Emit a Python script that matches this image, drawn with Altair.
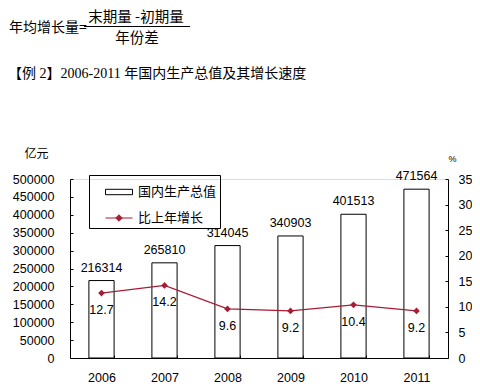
import altair as alt
import pandas as pd

years = ["2006", "2007", "2008", "2009", "2010", "2011"]
gdp = [216314, 265810, 314045, 340903, 401513, 471564]
growth = [12.7, 14.2, 9.6, 9.2, 10.4, 9.2]
gdp_ticks = [0, 50000, 100000, 150000, 200000, 250000, 300000, 350000, 400000, 450000, 500000]
pct_ticks = [0, 5, 10, 15, 20, 25, 30, 35]
series = ["国内生产总值", "比上年增长"]

RED = "#a81c34"
CJK = "Noto Sans CJK SC"
LAT = "Liberation Sans"

df = pd.DataFrame({"year": years, "gdp": gdp, "growth": growth,
                   "s_bar": series[0], "s_line": series[1]})

W, H = 378, 179

xscale = alt.Scale(paddingInner=0.6, paddingOuter=0.3)
yl_scale = alt.Scale(domain=[0, 500000], nice=False)
yr_scale = alt.Scale(domain=[0, 35], nice=False)

legend = alt.Legend(
    title=None, orient="none", legendX=19, legendY=-4, direction="vertical",
    strokeColor="black", padding=3, rowPadding=5, symbolOffset=13, labelOffset=5,
    labelFont=CJK, labelFontSize=13, labelColor="black",
    symbolSize=729, symbolStrokeWidth=1,
    symbolType=alt.ExprRef("datum.value == '国内生产总值' ? 'M-1,-0.2H1V0.2H-1Z' : 'M-1,0H1M0,-0.24L0.24,0L0,0.24L-0.24,0Z'"),
    symbolStrokeColor=alt.ExprRef("datum.value == '国内生产总值' ? 'black' : '" + RED + "'"),
    labelExpr="datum.label + '\u3000'",
)
color_scale = alt.Scale(domain=series, range=["white", RED])

INWARD = alt.ExprRef("-3")

x_ax = alt.Axis(orient="bottom", title=None, labelAngle=0, ticks=True, tickSize=INWARD,
                tickBand="extent", tickColor="black",
                labelPadding=16, labelFont=LAT, labelFontSize=12.5, labelColor="black",
                domainColor="black", grid=False)

yl_ax = alt.Axis(orient="left", values=gdp_ticks, format="d", title="亿元", titleAngle=0,
                 titleX=-34, titleY=-26, titleAlign="center", titleBaseline="middle",
                 titleFont=CJK, titleFontSize=12, titleFontWeight="normal", titleColor="black",
                 ticks=True, tickSize=INWARD, tickColor="black",
                 labelPadding=19, labelFont=LAT, labelFontSize=12.5,
                 labelColor="black", domainColor="black", grid=False)
yr_ax = alt.Axis(orient="right", values=pct_ticks, title="%", titleAngle=0,
                 titleX=4, titleY=-21, titleAlign="center", titleBaseline="middle",
                 titleFont=LAT, titleFontSize=9, titleFontWeight="normal", titleColor="black",
                 ticks=True, tickSize=INWARD, tickColor="black",
                 labelPadding=13, labelFont=LAT, labelFontSize=12.5,
                 labelColor="black", domainColor="black", grid=False)

base = alt.Chart(df)
X = alt.X("year:N", scale=xscale, axis=x_ax)

bars = base.mark_bar(stroke="black", strokeWidth=1).encode(
    x=X,
    y=alt.Y("gdp:Q", scale=yl_scale, axis=yl_ax),
    color=alt.Color("s_bar:N", scale=color_scale, legend=legend),
)
bar_text = base.mark_text(dy=-9, baseline="alphabetic", font=LAT, fontSize=12.5, color="black").encode(
    x=X,
    y=alt.Y("gdp:Q", scale=yl_scale, axis=yl_ax),
    text=alt.Text("gdp:Q", format="d"),
)
left = alt.layer(bars, bar_text)

line = base.mark_line(color=RED, strokeWidth=1.2).encode(
    x=X,
    y=alt.Y("growth:Q", scale=yr_scale, axis=yr_ax),
)
pts = base.mark_point(shape="diamond", filled=True, size=45, opacity=1).encode(
    x=X,
    y=alt.Y("growth:Q", scale=yr_scale, axis=yr_ax),
    color=alt.Color("s_line:N", scale=color_scale, legend=legend),
)
line_text = base.mark_text(dy=17, baseline="middle", font=LAT, fontSize=12.5, color="black").encode(
    x=X,
    y=alt.Y("growth:Q", scale=yr_scale, axis=yr_ax),
    text=alt.Text("growth:Q", format=".1f"),
)
right = alt.layer(line, pts, line_text)

# header annotations (document text above the chart)
ann = alt.Chart(pd.DataFrame({"a": [0]}))
t1 = ann.mark_text(text="年均增长量=", align="left", baseline="middle", font=CJK, fontSize=14,
                   color="black").encode(x=alt.value(-61), y=alt.value(-151))
t2 = ann.mark_text(text="末期量 -初期量", align="center", baseline="middle", font=CJK, fontSize=14.5,
                   color="black").encode(x=alt.value(66), y=alt.value(-161))
frac = ann.mark_rule(color="black", strokeWidth=1).encode(
    x=alt.value(14), x2=alt.value(120), y=alt.value(-152.5))
t3 = ann.mark_text(text="年份差", align="center", baseline="middle", font=CJK, fontSize=14.5,
                   color="black").encode(x=alt.value(67), y=alt.value(-140.5))
t4 = ann.mark_text(text="【例 2】2006-2011 年国内生产总值及其增长速度", align="left", baseline="middle",
                   font="Liberation Serif, Noto Sans CJK SC", fontSize=14,
                   color="black").encode(x=alt.value(-62), y=alt.value(-105))
header = alt.layer(t1, t2, frac, t3, t4)

chart = alt.layer(left, right, header).resolve_scale(
    y="independent"
).properties(
    width=W, height=H,
    autosize=alt.AutoSizeParams(type="none"),
    padding={"left": 62, "top": 171, "right": 24, "bottom": 27},
).configure_view(stroke=None).configure(background="white")

chart.save("out.html", embed_options={"renderer": "svg", "actions": False})
